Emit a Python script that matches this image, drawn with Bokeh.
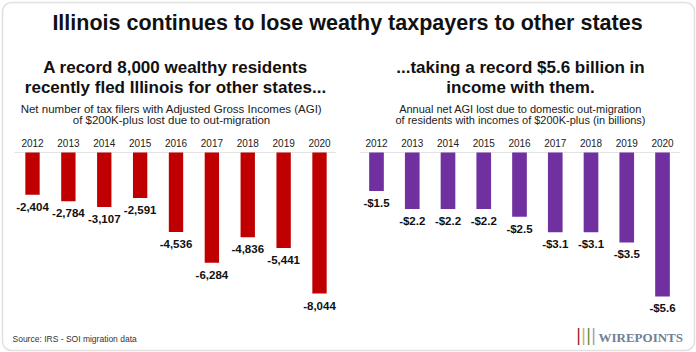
from bokeh.plotting import figure
from bokeh.models import Range1d, Label, BoxAnnotation, ColumnDataSource
from bokeh.core.properties import value
from bokeh.embed import file_html
from bokeh.resources import INLINE

# ---- data ----
years = [2012, 2013, 2014, 2015, 2016, 2017, 2018, 2019, 2020]
year_labels = [str(y) for y in years]
filers_lost = [-2404, -2784, -3107, -2591, -4536, -6284, -4836, -5441, -8044]
agi_lost_bn = [-1.5, -2.2, -2.2, -2.2, -2.5, -3.1, -3.1, -3.5, -5.6]

filers_labels = ["{:,}".format(v) for v in filers_lost]
agi_labels = ["-${:.1f}".format(abs(v)) for v in agi_lost_bn]

main_title = "Illinois continues to lose weathy taxpayers to other states"
left_title = ["A record 8,000 wealthy residents", "recently fled Illinois for other states..."]
left_sub = ["Net number of tax filers with Adjusted Gross Incomes (AGI)", "of $200K-plus lost due to out-migration"]
right_title = ["...taking a record $5.6 billion in", "income with them."]
right_sub = ["Annual net AGI lost due to domestic out-migration", "of residents with incomes of $200K-plus (in billions)"]
source_text = "Source: IRS - SOI migration data"

RED = "#C00000"
PURPLE = "#7030A0"
FONT = "'Liberation Sans', Arial, sans-serif"

W, H = 696, 352

# pixel layout of the two panels
px_per_year_l = 35.875
x0_l = 32.0
px_per_unit_l = 0.017535
base_y = 152.0  # from top

xs_l = years[0] - x0_l / px_per_year_l
xe_l = xs_l + W / px_per_year_l
ys_l = -(H - base_y) / px_per_unit_l
ye_l = base_y / px_per_unit_l

px_per_year_r = 35.75
x0_r = 376.0
px_per_unit_r = 25.7
xs_r = years[0] - x0_r / px_per_year_r
xe_r = xs_r + W / px_per_year_r
ys_r = -(H - base_y) / px_per_unit_r
ye_r = base_y / px_per_unit_r

p = figure(width=W, height=H, output_backend="svg", toolbar_location=None,
           x_range=Range1d(xs_l, xe_l), y_range=Range1d(ys_l, ye_l),
           min_border=0, min_border_left=0, min_border_right=0,
           min_border_top=0, min_border_bottom=0)
p.extra_x_ranges = {"r": Range1d(xs_r, xe_r)}
p.extra_y_ranges = {"r": Range1d(ys_r, ye_r)}
p.xaxis.visible = False
p.yaxis.visible = False
p.grid.visible = False
p.outline_line_color = None
p.background_fill_color = "white"
p.border_fill_color = "white"

src_l = ColumnDataSource(dict(x=years, v=filers_lost, lab=filers_labels, yl=year_labels, z=[0]*len(years)))
src_r = ColumnDataSource(dict(x=years, v=agi_lost_bn, lab=agi_labels, yl=year_labels, z=[0]*len(years)))

# baseline gridlines
p.segment(x0=[years[0] - 0.5], y0=[0], x1=[years[-1] + 0.45], y1=[0], line_color="#e3e3e3", line_width=1)
p.segment(x0=[years[0] - 0.45], y0=[0], x1=[years[-1] + 0.5], y1=[0], line_color="#e3e3e3", line_width=1,
          x_range_name="r", y_range_name="r")

# bars
p.vbar(x="x", top="z", bottom="v", width=0.4, source=src_l, fill_color=RED, line_color=None)
p.vbar(x="x", top="z", bottom="v", width=0.41, source=src_r, fill_color=PURPLE, line_color=None,
       x_range_name="r", y_range_name="r")

# year labels and value labels
for src, kw in ((src_l, {}), (src_r, dict(x_range_name="r", y_range_name="r"))):
    p.text(x="x", y="z", text="yl", source=src, y_offset=-10, text_align="center", text_baseline="middle",
           text_font=value(FONT), text_font_size="10px", text_color="#222222", **kw)
    p.text(x="x", y="v", text="lab", source=src, y_offset=12, text_align="center", text_baseline="middle",
           text_font=value(FONT), text_font_size="11.5px", text_font_style="bold", text_color="#111111", **kw)

def add_label(text, x, y_top, size, style="normal", color="#111111", align="center", font=FONT):
    p.add_layout(Label(x=x, y=H - y_top, x_units="screen", y_units="screen", text=text,
                       text_align=align, text_baseline="middle", text_font=font,
                       text_font_size=size, text_font_style=style, text_color=color))

add_label(main_title, 347, 22, "21.5px", "bold")
for i, t in enumerate(left_title):
    add_label(t, 175, 67 + 20 * i, "17px", "bold")
for i, t in enumerate(right_title):
    add_label(t, 520, 67 + 20 * i, "17px", "bold")
for i, t in enumerate(left_sub):
    add_label(t, 171, 108 + 11 * i, "11.5px", "normal", "#222222")
for i, t in enumerate(right_sub):
    add_label(t, 520, 108 + 11 * i, "11px", "normal", "#222222")
add_label(source_text, 12, 338, "8.5px", "normal", "#333333", align="left")

# logo
add_label("WIREPOINTS", 598, 337, "13px", "bold", "#6e8197", align="left", font="'Liberation Serif', serif")
logo_marks = [("|", 576, "#8b1a1a"), ("|", 581, "#c9a77a"), ("|", 586, "#5a8a3a"), ("|", 591, "#9aa0a6")]
for t, x, c in logo_marks:
    add_label(t, x, 334, "19px", "bold", c, align="left", font="'Liberation Serif', serif")

# rounded outer border
p.add_layout(BoxAnnotation(left=2, right=W - 2, bottom=2, top=H - 2,
                           left_units="screen", right_units="screen",
                           bottom_units="screen", top_units="screen",
                           fill_alpha=0, line_color="#9a9a9a", line_width=1.5, border_radius=9))

open("out.html", "w").write(file_html(p, INLINE))
